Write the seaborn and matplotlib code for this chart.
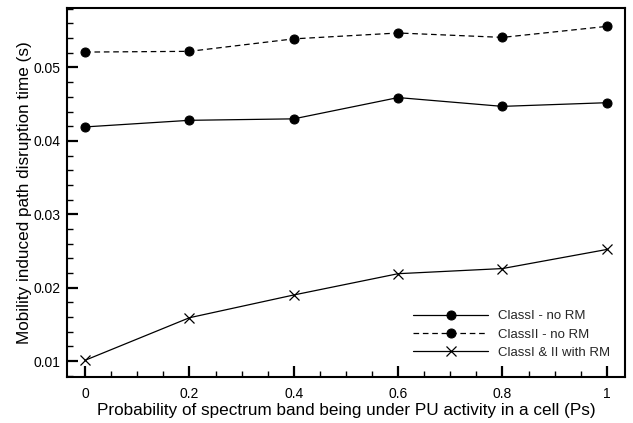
import matplotlib
matplotlib.use("Agg")
import matplotlib.pyplot as plt
import seaborn as sns
from matplotlib.ticker import MultipleLocator

# Probability of spectrum band being under PU activity (Ps)
ps = [0.0, 0.2, 0.4, 0.6, 0.8, 1.0]

# Mean path disruption time (s)
class1_no_rm = [0.0419, 0.0428, 0.0430, 0.0459, 0.0447, 0.0452]
class2_no_rm = [0.0521, 0.0522, 0.0539, 0.0547, 0.0541, 0.0556]
class12_rm = [0.0101, 0.0159, 0.0190, 0.0219, 0.0226, 0.0252]

series_labels = ["ClassI - no RM", "ClassII - no RM", "ClassI & II with RM"]
x_ticklabels = ["0", "0.2", "0.4", "0.6", "0.8", "1"]
y_ticks = [0.01, 0.02, 0.03, 0.04, 0.05]
y_ticklabels = ["0.01", "0.02", "0.03", "0.04", "0.05"]

sns.set_theme(style="white")
plt.rcParams["font.family"] = ["Liberation Sans", "DejaVu Sans"]

fig, ax = plt.subplots(figsize=(6.33, 4.23), dpi=100)
fig.subplots_adjust(left=0.106, right=0.987, top=0.981, bottom=0.108)

sns.lineplot(x=ps, y=class1_no_rm, ax=ax, color="black", linewidth=0.9,
             marker="o", markersize=6.5, markeredgecolor="black",
             linestyle="-", label=series_labels[0])
sns.lineplot(x=ps, y=class2_no_rm, ax=ax, color="black", linewidth=0.9,
             marker="o", markersize=6.5, markeredgecolor="black",
             linestyle=(0, (4.5, 3)), label=series_labels[1])
sns.lineplot(x=ps, y=class12_rm, ax=ax, color="black", linewidth=0.9,
             marker="x", markersize=7, markeredgewidth=0.9,
             markeredgecolor="black", linestyle="-", label=series_labels[2])

ax.set_xlim(-0.0345, 1.0345)
ax.set_ylim(0.00778, 0.0581)

ax.xaxis.set_minor_locator(MultipleLocator(0.05))
ax.yaxis.set_minor_locator(MultipleLocator(0.002))
ax.set_xticks(ps)
ax.set_xticklabels(x_ticklabels)
ax.set_yticks(y_ticks)
ax.set_yticklabels(y_ticklabels)

ax.tick_params(axis="both", which="major", direction="in", length=8, width=1.6,
               labelsize=10, colors="black",
               top=False, right=False, bottom=True, left=True)
ax.tick_params(axis="x", which="major", pad=7)
ax.tick_params(axis="y", which="major", pad=5)
ax.tick_params(axis="both", which="minor", direction="in", length=4.5, width=1.0,
               top=False, right=False, bottom=True, left=True, colors="black")

for side in ["left", "bottom", "top", "right"]:
    ax.spines[side].set_visible(True)
    ax.spines[side].set_color("black")
    ax.spines[side].set_linewidth(1.5)

ax.set_xlabel("Probability of spectrum band being under PU activity in a cell (Ps)",
              fontsize=12.3, labelpad=1.5, color="black")
ax.set_ylabel("Mobility induced path disruption time (s)",
              fontsize=12.3, labelpad=0.5, color="black")

ax.legend(loc="lower right", frameon=False, fontsize=9.5, handlelength=5.65,
          numpoints=1, borderaxespad=1.0, labelspacing=0.45, handletextpad=0.8,
          bbox_to_anchor=(1.0075, 0.0))

fig.savefig("out.png", dpi=100, facecolor="white")
